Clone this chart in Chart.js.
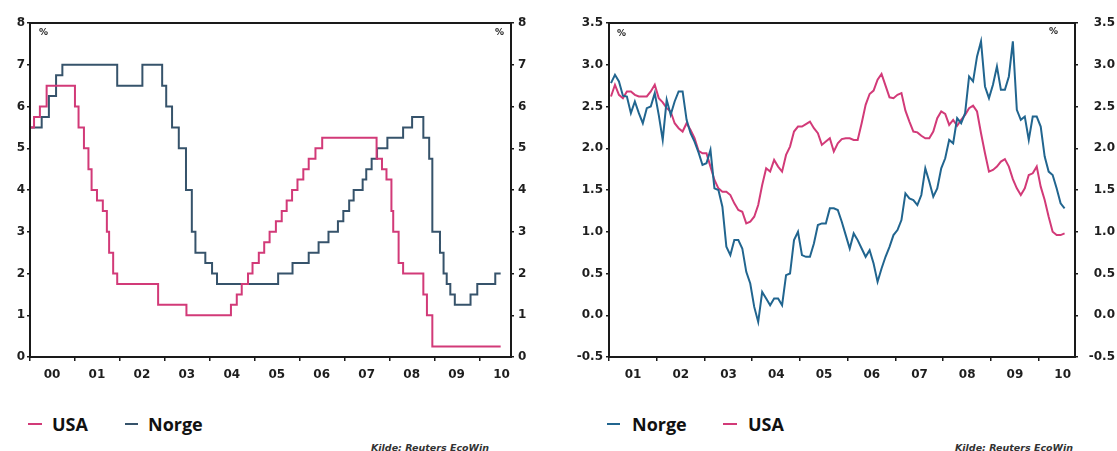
<!DOCTYPE html>
<html><head><meta charset="utf-8">
<script src="https://cdn.jsdelivr.net/npm/chart.js@4"></script>
<style>
html,body{margin:0;padding:0;background:#fff;width:1117px;height:451px;overflow:hidden;position:relative}
#c1{position:absolute;left:0;top:0}
#c2{position:absolute;left:560px;top:0}
.pct{position:absolute;font:bold 9px 'DejaVu Sans',sans-serif;color:#222}
.leg{position:absolute;top:411px;font:bold 18px 'Open Sans',sans-serif;color:#111;line-height:26px;white-space:nowrap}
.sw{position:absolute;top:423px;height:2px}
.src{position:absolute;top:442px;font:italic bold 9.5px 'DejaVu Sans',sans-serif;color:#333;white-space:nowrap}
</style></head>
<body>
<canvas id="c1" width="550" height="400"></canvas>
<canvas id="c2" width="555" height="400"></canvas>
<div class="pct" style="left:39px;top:27px">%</div>
<div class="pct" style="left:495px;top:27px">%</div>
<div class="pct" style="left:617px;top:28px">%</div>
<div class="pct" style="left:1049px;top:26px">%</div>
<div class="sw" style="left:28px;width:14px;background:#d23a78"></div>
<div class="leg" style="left:52px">USA</div>
<div class="sw" style="left:125px;width:13px;background:#36536b"></div>
<div class="leg" style="left:148px">Norge</div>
<div class="src" style="left:371px">Kilde: Reuters EcoWin</div>
<div class="sw" style="left:607px;width:13px;background:#21658f"></div>
<div class="leg" style="left:632px">Norge</div>
<div class="sw" style="left:723px;width:14px;background:#d23a78"></div>
<div class="leg" style="left:748px">USA</div>
<div class="src" style="left:955px">Kilde: Reuters EcoWin</div>
<script>
// ---- Left chart: policy rates (step changes: date as decimal year, rate in %)
const usaRateDates = [2000.0, 2000.09, 2000.22, 2000.37, 2001.0, 2001.08, 2001.2, 2001.3, 2001.37, 2001.49, 2001.62, 2001.71, 2001.76, 2001.85, 2001.94, 2002.85, 2003.48, 2004.47, 2004.6, 2004.71, 2004.85, 2004.95, 2005.09, 2005.21, 2005.33, 2005.47, 2005.6, 2005.71, 2005.83, 2005.95, 2006.08, 2006.2, 2006.35, 2006.5, 2007.71, 2007.83, 2007.93, 2008.04, 2008.08, 2008.2, 2008.3, 2008.75, 2008.83, 2008.95, 2010.47];
const usaRates     = [5.5, 5.75, 6.0, 6.5, 6.0, 5.5, 5.0, 4.5, 4.0, 3.75, 3.5, 3.0, 2.5, 2.0, 1.75, 1.25, 1.0, 1.25, 1.5, 1.75, 2.0, 2.25, 2.5, 2.75, 3.0, 3.25, 3.5, 3.75, 4.0, 4.25, 4.5, 4.75, 5.0, 5.25, 4.75, 4.5, 4.25, 3.5, 3.0, 2.25, 2.0, 1.5, 1.0, 0.25, 0.25];
const norgeRateDates = [2000.0, 2000.26, 2000.42, 2000.58, 2000.72, 2001.94, 2002.5, 2002.94, 2003.03, 2003.16, 2003.31, 2003.47, 2003.6, 2003.68, 2003.9, 2004.05, 2004.16, 2005.52, 2005.84, 2006.2, 2006.42, 2006.64, 2006.85, 2006.97, 2007.1, 2007.2, 2007.4, 2007.48, 2007.6, 2007.72, 2007.95, 2008.3, 2008.5, 2008.75, 2008.88, 2008.95, 2009.12, 2009.2, 2009.27, 2009.35, 2009.45, 2009.8, 2009.95, 2010.35, 2010.47];
const norgeRates     = [5.5, 5.75, 6.25, 6.75, 7.0, 6.5, 7.0, 6.5, 6.0, 5.5, 5.0, 4.0, 3.0, 2.5, 2.25, 2.0, 1.75, 2.0, 2.25, 2.5, 2.75, 3.0, 3.25, 3.5, 3.75, 4.0, 4.25, 4.5, 4.75, 5.0, 5.25, 5.5, 5.75, 5.25, 4.75, 3.0, 2.5, 2.0, 1.75, 1.5, 1.25, 1.5, 1.75, 2.0, 2.0];
const leftTickYears  = [2000, 2001, 2002, 2003, 2004, 2005, 2006, 2007, 2008, 2009, 2010];
const leftTickLabels = ['00', '01', '02', '03', '04', '05', '06', '07', '08', '09', '10'];

// ---- Right chart: monthly series from Jan 2001 (%)
const rightStartYear = 2001;
const norgeMonthly = [2.78, 2.88, 2.80, 2.63, 2.62, 2.42, 2.56, 2.42, 2.30, 2.48, 2.50, 2.66,
  2.40, 2.10, 2.58, 2.40, 2.56, 2.68, 2.68, 2.34, 2.18, 2.08, 1.95, 1.80,
  1.82, 1.98, 1.52, 1.50, 1.30, 0.82, 0.72, 0.90, 0.90, 0.80, 0.52, 0.38,
  0.10, -0.08, 0.28, 0.20, 0.12, 0.20, 0.20, 0.12, 0.48, 0.50, 0.90, 1.00,
  0.72, 0.70, 0.70, 0.86, 1.08, 1.10, 1.10, 1.28, 1.28, 1.26, 1.12, 0.96,
  0.80, 0.98, 0.90, 0.80, 0.70, 0.78, 0.62, 0.40, 0.56, 0.70, 0.82, 0.96,
  1.02, 1.14, 1.46, 1.40, 1.38, 1.32, 1.44, 1.76, 1.60, 1.42, 1.52, 1.76,
  1.88, 2.10, 2.06, 2.36, 2.30, 2.42, 2.86, 2.80, 3.10, 3.28, 2.74, 2.60,
  2.76, 2.98, 2.70, 2.70, 2.86, 3.28, 2.46, 2.34, 2.38, 2.10, 2.38, 2.38,
  2.26, 1.90, 1.72, 1.68, 1.52, 1.34, 1.28];
const usaMonthly = [2.62, 2.76, 2.64, 2.60, 2.68, 2.68, 2.64, 2.62, 2.62, 2.62, 2.68, 2.76,
  2.60, 2.55, 2.48, 2.44, 2.30, 2.24, 2.20, 2.30, 2.22, 2.12, 1.97, 1.94,
  1.94, 1.78, 1.62, 1.52, 1.48, 1.48, 1.44, 1.34, 1.26, 1.24, 1.10, 1.12,
  1.18, 1.32, 1.56, 1.76, 1.72, 1.86, 1.78, 1.72, 1.92, 2.02, 2.20, 2.26,
  2.26, 2.29, 2.32, 2.24, 2.18, 2.04, 2.08, 2.12, 1.96, 2.06, 2.11, 2.12,
  2.12, 2.10, 2.10, 2.30, 2.52, 2.65, 2.69, 2.82, 2.89, 2.75, 2.61, 2.60,
  2.64, 2.66, 2.45, 2.32, 2.20, 2.19, 2.15, 2.12, 2.12, 2.20, 2.36, 2.44,
  2.41, 2.28, 2.34, 2.27, 2.34, 2.40, 2.48, 2.51, 2.44, 2.18, 1.94, 1.72,
  1.74, 1.78, 1.84, 1.87, 1.78, 1.63, 1.52, 1.44, 1.52, 1.68, 1.70, 1.78,
  1.54, 1.38, 1.18, 1.00, 0.96, 0.96, 0.98];
const rightTickYears  = [2001, 2002, 2003, 2004, 2005, 2006, 2007, 2008, 2009, 2010];
const rightTickLabels = ['01', '02', '03', '04', '05', '06', '07', '08', '09', '10'];

const USA_COLOR = '#d23a78';
const NORGE_LEFT = '#36536b';
const NORGE_RIGHT = '#21658f';
const TXT = '#1e1e1e';
const tickFont = { family: 'DejaVu Sans', weight: 'bold', size: 12 };

const frame = {
  id: 'frame',
  afterDraw(chart) {
    const { ctx, chartArea: a } = chart;
    ctx.save();
    ctx.strokeStyle = '#1a1a1a';
    ctx.lineWidth = 2;
    ctx.strokeRect(a.left, a.top, a.right - a.left, a.bottom - a.top);
    ctx.restore();
  }
};

function pairs(xs, ys) { return xs.map((x, i) => ({ x: x, y: ys[i] })); }
function monthly(ys) { return ys.map((y, i) => ({ x: rightStartYear + (i + 0.5) / 12, y: y })); }

function yAxis(pos, min, max, step, width, fmt, pad, align) {
  return {
    type: 'linear', position: pos, min: min, max: max,
    border: { display: false },
    grid: { display: true, drawOnChartArea: false, drawTicks: true, tickLength: 3, color: '#1a1a1a', lineWidth: 1.5 },
    ticks: { stepSize: step, font: tickFont, color: TXT, padding: pad, crossAlign: align, callback: fmt },
    afterFit: s => { s.width = width; }
  };
}
function xAxis(min, max, years, labels, offset) {
  return {
    type: 'linear', position: 'bottom', min: min, max: max,
    border: { display: false },
    grid: { display: true, drawOnChartArea: false, drawTicks: true, tickLength: 4, color: '#1a1a1a', lineWidth: 1.5 },
    afterBuildTicks: s => { s.ticks = years.map(v => ({ value: v })); },
    ticks: { font: tickFont, color: TXT, padding: 7, maxRotation: 0, autoSkip: false, labelOffset: offset,
      callback: (v, i) => labels[i] },
    afterFit: s => { s.height = 43; }
  };
}

const common = {
  responsive: false, animation: false,
  layout: { padding: { top: 23, left: 0, right: 0, bottom: 0 } },
  plugins: { legend: { display: false }, tooltip: { enabled: false } },
  elements: { point: { radius: 0 }, line: { borderWidth: 2, tension: 0 } }
};

new Chart(document.getElementById('c1'), {
  type: 'line',
  data: { datasets: [
    { label: 'USA', data: pairs(usaRateDates, usaRates), borderColor: USA_COLOR, stepped: true, yAxisID: 'y' },
    { label: 'Norge', data: pairs(norgeRateDates, norgeRates), borderColor: NORGE_LEFT, stepped: true, yAxisID: 'y' }
  ] },
  options: Object.assign({}, common, {
    scales: {
      x: xAxis(2000, 2010.7, leftTickYears, leftTickLabels, 22),
      y: yAxis('left', 0, 8, 1, 30, v => String(v), 2, 'near'),
      y2: yAxis('right', 0, 8, 1, 39, v => String(v), 4, 'near')
    }
  }),
  plugins: [frame]
});

const fmt1 = v => v.toFixed(1);
new Chart(document.getElementById('c2'), {
  type: 'line',
  data: { datasets: [
    { label: 'Norge', data: monthly(norgeMonthly), borderColor: NORGE_RIGHT, yAxisID: 'y' },
    { label: 'USA', data: monthly(usaMonthly), borderColor: USA_COLOR, yAxisID: 'y' }
  ] },
  options: Object.assign({}, common, {
    scales: {
      x: xAxis(2001, 2010.76, rightTickYears, rightTickLabels, 24),
      y: yAxis('left', -0.5, 3.5, 0.5, 49, fmt1, 3, 'near'),
      y2: yAxis('right', -0.5, 3.5, 0.5, 40, fmt1, 7, 'far')
    }
  }),
  plugins: [frame]
});
</script>
</body></html>
